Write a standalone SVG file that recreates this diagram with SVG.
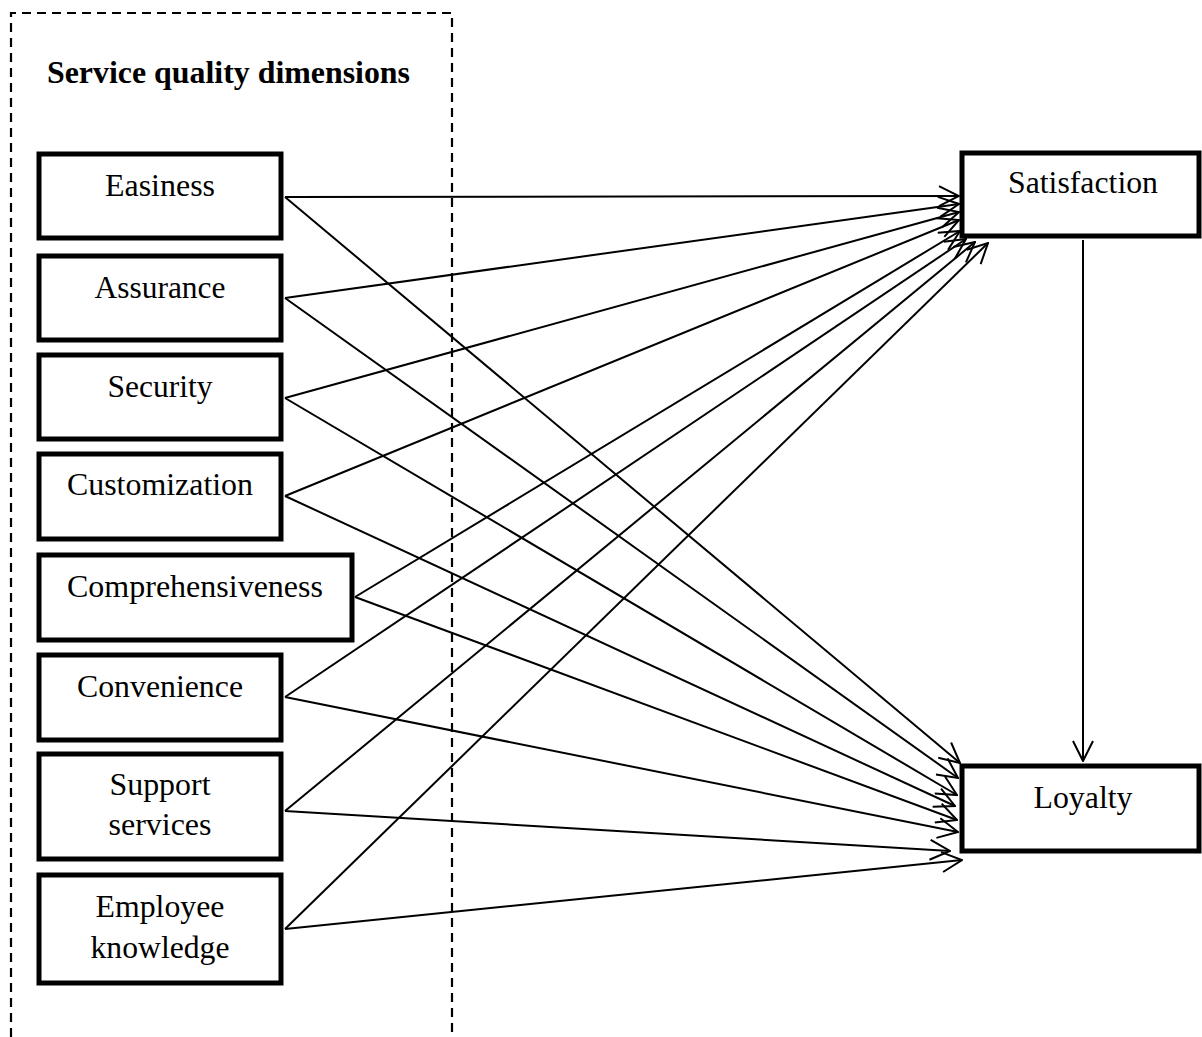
<svg xmlns="http://www.w3.org/2000/svg" width="1202" height="1037" viewBox="0 0 1202 1037">
<style>
.box{fill:#fff;stroke:#000;stroke-width:5}
.lbl{font-family:"Liberation Serif","Times New Roman",serif;font-size:31px;fill:#000;text-anchor:middle}
.ttl{font-family:"Liberation Serif","Times New Roman",serif;font-size:31px;font-weight:bold;fill:#000}
.con{stroke:#000;stroke-width:2;fill:none;marker-end:url(#ah)}
.dash{stroke:#000;stroke-width:2.2;fill:none;stroke-dasharray:9 6}
</style>
<defs>
<marker id="ah" viewBox="0 0 22 22" refX="21" refY="11" markerWidth="22" markerHeight="22" markerUnits="userSpaceOnUse" orient="auto">
<path d="M1,1 L21,11 L1,21" fill="none" stroke="#000" stroke-width="2"/>
</marker>
</defs>
<rect width="1202" height="1037" fill="#fff"/>
<g id="group-border">
<path class="dash" d="M11,1037 L11,13 L452,13 L452,1037"/>
<text class="ttl" x="47" y="83" textLength="363" lengthAdjust="spacingAndGlyphs">Service quality dimensions</text>
</g>
<g id="connectors">
<line class="con" x1="285" y1="197" x2="959" y2="196"/>
<line class="con" x1="285" y1="298" x2="959" y2="204"/>
<line class="con" x1="285" y1="398" x2="959" y2="212"/>
<line class="con" x1="285" y1="496" x2="959" y2="220"/>
<line class="con" x1="355" y1="597" x2="960" y2="231"/>
<line class="con" x1="285" y1="697" x2="966" y2="239"/>
<line class="con" x1="285" y1="811" x2="975" y2="242"/>
<line class="con" x1="285" y1="929" x2="988" y2="243"/>
<line class="con" x1="285" y1="197" x2="960" y2="763"/>
<line class="con" x1="285" y1="298" x2="958" y2="778"/>
<line class="con" x1="285" y1="398" x2="957" y2="795"/>
<line class="con" x1="285" y1="496" x2="955" y2="806"/>
<line class="con" x1="355" y1="597" x2="957" y2="820"/>
<line class="con" x1="285" y1="697" x2="958" y2="832"/>
<line class="con" x1="285" y1="811" x2="950" y2="851"/>
<line class="con" x1="285" y1="929" x2="962" y2="860"/>
<line class="con" x1="1083" y1="240" x2="1083" y2="761"/>
</g>
<g id="node-easiness">
<rect class="box" x="39" y="154" width="242" height="84"/>
<text class="lbl" x="160" y="196" textLength="110" lengthAdjust="spacingAndGlyphs">Easiness</text>
</g>
<g id="node-assurance">
<rect class="box" x="39" y="256" width="242" height="84"/>
<text class="lbl" x="160" y="298" textLength="131" lengthAdjust="spacingAndGlyphs">Assurance</text>
</g>
<g id="node-security">
<rect class="box" x="39" y="355" width="242" height="84"/>
<text class="lbl" x="160" y="397" textLength="105" lengthAdjust="spacingAndGlyphs">Security</text>
</g>
<g id="node-customization">
<rect class="box" x="39" y="454" width="242" height="85"/>
<text class="lbl" x="160" y="495" textLength="186" lengthAdjust="spacingAndGlyphs">Customization</text>
</g>
<g id="node-comprehensiveness">
<rect class="box" x="39" y="555" width="313" height="85"/>
<text class="lbl" x="195" y="597" textLength="256" lengthAdjust="spacingAndGlyphs">Comprehensiveness</text>
</g>
<g id="node-convenience">
<rect class="box" x="39" y="655" width="242" height="85"/>
<text class="lbl" x="160" y="697" textLength="166" lengthAdjust="spacingAndGlyphs">Convenience</text>
</g>
<g id="node-support">
<rect class="box" x="39" y="754" width="242" height="105"/>
<text class="lbl" x="160" y="795" textLength="101" lengthAdjust="spacingAndGlyphs">Support</text>
<text class="lbl" x="160" y="835" textLength="103" lengthAdjust="spacingAndGlyphs">services</text>
</g>
<g id="node-employee">
<rect class="box" x="39" y="875" width="242" height="108"/>
<text class="lbl" x="160" y="917" textLength="129" lengthAdjust="spacingAndGlyphs">Employee</text>
<text class="lbl" x="160" y="958" textLength="139" lengthAdjust="spacingAndGlyphs">knowledge</text>
</g>
<g id="node-satisfaction">
<rect class="box" x="962" y="153" width="237" height="83"/>
<text class="lbl" x="1083" y="193" textLength="150" lengthAdjust="spacingAndGlyphs">Satisfaction</text>
</g>
<g id="node-loyalty">
<rect class="box" x="962" y="766" width="237" height="85"/>
<text class="lbl" x="1083" y="808" textLength="99" lengthAdjust="spacingAndGlyphs">Loyalty</text>
</g>
</svg>
